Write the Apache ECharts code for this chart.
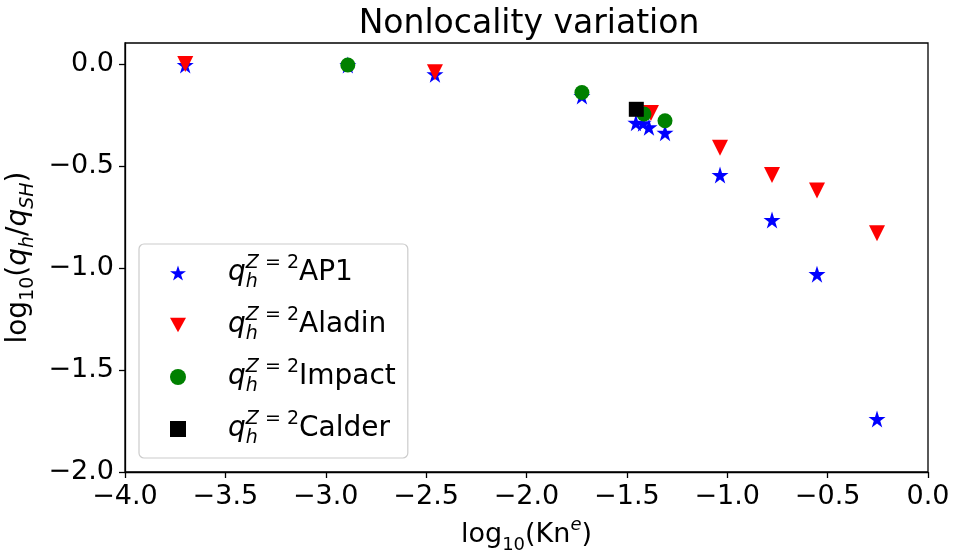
<!DOCTYPE html>
<html>
<head>
<meta charset="utf-8">
<script src="https://cdn.jsdelivr.net/npm/echarts@6/dist/echarts.min.js"></script>
<style>
  html, body { margin: 0; padding: 0; background: #fff; }
  #container { width: 960px; height: 559px; }
</style>
</head>
<body>
<div id="container"></div>
<script>
const container = document.getElementById('container');
const chartIns = echarts.init(container);

// values: [log10(Kn^e), log10(qh/qSH)]
const ap1Data = [
  [-3.70, -0.005], [-2.89, -0.005], [-2.456, -0.05], [-1.724, -0.157],
  [-1.455, -0.288], [-1.42, -0.29], [-1.39, -0.31], [-1.31, -0.337],
  [-1.036, -0.544], [-0.777, -0.765], [-0.553, -1.03], [-0.254, -1.74]
];
const aladinData = [
  [-3.70, 0.0], [-2.456, -0.04], [-1.38, -0.24], [-1.036, -0.41],
  [-0.777, -0.544], [-0.553, -0.62], [-0.254, -0.83]
];
const impactData = [
  [-2.89, -0.005], [-1.724, -0.14], [-1.415, -0.245], [-1.31, -0.278]
];
const calderData = [
  [-1.453, -0.222]
];

const seriesNames = ['AP1', 'Aladin', 'Impact', 'Calder'];
const colors = ['#0000ff', '#ff0000', '#008000', '#000000'];

const STAR = 'path://M50 0 L61.2 34.5 L97.6 34.5 L68.2 55.9 L79.4 90.5 L50 69.1 L20.6 90.5 L31.8 55.9 L2.4 34.5 L38.8 34.5 Z';
const TRI_DOWN = 'path://M0 0 L100 0 L50 90 Z';
const symbols = [STAR, TRI_DOWN, 'circle', 'rect'];
const symbolSizes = [17, 16, 15, 15];

const FONT = 'DejaVu Sans';
const minus = (v) => (v < 0 ? '\u2212' : '') + Math.abs(v).toFixed(1);
const onHalf = (v) => Math.abs(v * 2 - Math.round(v * 2)) < 1e-6;

const mathRich = {
  n: { fontFamily: FONT, fontSize: 27, color: '#000', lineHeight: 38 },
  i: { fontFamily: FONT, fontSize: 27, fontStyle: 'italic', color: '#000', lineHeight: 38 },
  s: { fontFamily: FONT, fontSize: 18, color: '#000', verticalAlign: 'bottom', lineHeight: 38 },
  si: { fontFamily: FONT, fontSize: 18, fontStyle: 'italic', color: '#000', verticalAlign: 'bottom', lineHeight: 38 },
  h: { fontFamily: FONT, fontSize: 18, fontStyle: 'italic', color: '#000', verticalAlign: 'bottom', lineHeight: 38, width: 0.1 },
  p: { fontFamily: FONT, fontSize: 18, color: '#000', verticalAlign: 'top', lineHeight: 38 },
  pi: { fontFamily: FONT, fontSize: 18, fontStyle: 'italic', color: '#000', verticalAlign: 'top', lineHeight: 38 },
  sp: { width: 37, lineHeight: 38 }
};
// a little larger for the legend entries and the y axis title
const bigRich = {};
Object.keys(mathRich).forEach((k) => {
  const st = Object.assign({}, mathRich[k]);
  if (st.fontSize) st.fontSize = st.fontSize === 27 ? 28 : 19;
  bigRich[k] = st;
});

const series = [ap1Data, aladinData, impactData, calderData].map((data, k) => ({
  name: seriesNames[k],
  type: 'scatter',
  symbol: symbols[k],
  symbolSize: symbolSizes[k],
  itemStyle: { color: colors[k], opacity: 1 },
  z: 2 + k,
  data: data
}));

const option = {
  animation: false,
  backgroundColor: '#fff',
  title: {
    text: 'Nonlocality variation',
    left: 524,
    top: 3,
    textAlign: 'center',
    textStyle: { fontFamily: FONT, fontSize: 33, fontWeight: 'normal', color: '#000' }
  },
  grid: {
    left: 125, right: 32, top: 43, bottom: 87,
    outerBoundsMode: 'none',
    containLabel: false,
    show: true, borderColor: '#000', borderWidth: 1.3
  },
  legend: {
    orient: 'vertical',
    left: 139,
    top: 244,
    padding: [10, 12, 10, 31],
    itemGap: 14,
    itemWidth: 16,
    itemHeight: 16,
    backgroundColor: '#fff',
    borderColor: '#cccccc',
    borderWidth: 1.2,
    borderRadius: 5,
    data: seriesNames.map((n, k) => ({ name: n, icon: symbols[k] })),
    formatter: (name) => '{sp|}{i|q}{h|h}{pi|Z}{p| = 2}{n|' + name + '}',
    textStyle: { rich: bigRich }
  },
  xAxis: {
    type: 'value',
    min: -4, max: 0, interval: 0.5,
    name: '{n|log}{s|10}{n|(Kn}{pi|e}{n|)}',
    nameLocation: 'middle',
    nameGap: 44,
    nameTextStyle: { rich: mathRich },
    axisLine: { show: true, onZero: false, lineStyle: { color: '#000', width: 1.3 } },
    axisTick: { show: true, inside: false, length: 6, lineStyle: { color: '#000', width: 1.3 } },
    axisLabel: { formatter: minus, fontFamily: FONT, fontSize: 27, color: '#000', margin: 11 },
    splitLine: { show: false }
  },
  yAxis: {
    type: 'value',
    min: -2, max: 0.103, interval: 0.5,
    name: '{n|log}{s|10}{n|(}{i|q}{si|h}{n|/}{i|q}{si|SH}{n|)}',
    nameLocation: 'middle',
    nameRotate: 90,
    nameGap: 83,
    nameTextStyle: { rich: bigRich },
    axisLine: { show: true, onZero: false, lineStyle: { color: '#000', width: 1.3 } },
    axisTick: { show: true, inside: false, length: 6, lineStyle: { color: '#000', width: 1.3 } },
    axisLabel: {
      formatter: (v) => (onHalf(v) ? minus(v) : ''),
      showMaxLabel: false,
      fontFamily: FONT, fontSize: 27, color: '#000', margin: 11
    },
    splitLine: { show: false }
  },
  series: series
};

chartIns.setOption(option);
</script>
</body>
</html>
